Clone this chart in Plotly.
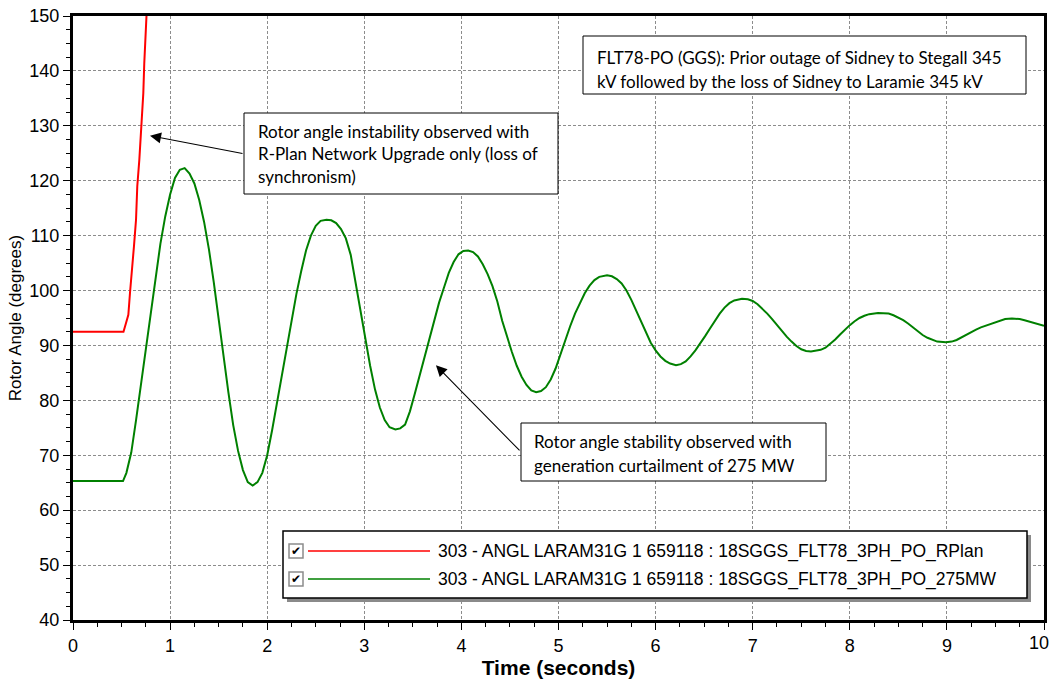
import plotly.graph_objects as go

# ---------------- data ----------------
series_names = [
    "303 - ANGL LARAM31G 1 659118 : 18SGGS_FLT78_3PH_PO_RPlan",
    "303 - ANGL LARAM31G 1 659118 : 18SGGS_FLT78_3PH_PO_275MW",
]
series_colors = ["#FF0000", "#008000"]

rplan_time = [0.0, 0.52, 0.546, 0.57, 0.587, 0.604, 0.628, 0.649, 0.662, 0.683,
              0.707, 0.724, 0.734, 0.748, 0.758, 0.77]
rplan_angle = [92.5, 92.5, 94.1, 95.6, 99.6, 103.8, 108.1, 112.9, 119.0, 123.8,
               129.9, 135.9, 141.4, 145.6, 150.0, 155.0]

mw275_time = [
    0.0, 0.25, 0.50, 0.515, 0.55, 0.60, 0.65, 0.70, 0.75, 0.80, 0.85, 0.90, 0.95,
    1.00, 1.05, 1.10, 1.15,
    1.20, 1.25, 1.30, 1.35, 1.40, 1.45, 1.50, 1.55, 1.60, 1.65, 1.70, 1.75, 1.80, 1.85,
    1.90, 1.95, 2.00, 2.05, 2.10, 2.15, 2.20, 2.25, 2.30, 2.35, 2.40, 2.45, 2.50, 2.55, 2.61,
    2.66, 2.71, 2.76, 2.81, 2.86, 2.91, 2.96, 3.01, 3.06, 3.11, 3.16, 3.21, 3.26, 3.32,
    3.37, 3.42, 3.47, 3.52, 3.57, 3.62, 3.67, 3.72, 3.77, 3.82, 3.87, 3.92, 3.97, 4.02, 4.07,
    4.12, 4.17, 4.22, 4.27, 4.32, 4.37, 4.42, 4.47, 4.52, 4.57, 4.62, 4.67, 4.72, 4.77,
    4.82, 4.87, 4.92, 4.97, 5.02, 5.07, 5.12, 5.17, 5.22, 5.27, 5.32, 5.37, 5.42, 5.50,
    5.55, 5.60, 5.65, 5.70, 5.75, 5.80, 5.85, 5.90, 5.95, 6.00, 6.05, 6.10, 6.15, 6.21,
    6.26, 6.31, 6.36, 6.41, 6.46, 6.51, 6.56, 6.61, 6.66, 6.71, 6.76, 6.81, 6.89,
    6.95, 7.00, 7.05, 7.10, 7.15, 7.20, 7.25, 7.30, 7.35, 7.40, 7.45, 7.50, 7.55, 7.60,
    7.65, 7.70, 7.75, 7.80, 7.85, 7.90, 7.95, 8.00, 8.05, 8.10, 8.15, 8.20, 8.29,
    8.35, 8.40, 8.45, 8.50, 8.55, 8.60, 8.65, 8.70, 8.75, 8.80, 8.85, 8.90, 8.99,
    9.05, 9.10, 9.15, 9.20, 9.25, 9.30, 9.35, 9.40, 9.45, 9.50, 9.55, 9.60, 9.67,
    9.75, 9.80, 9.86, 9.93, 10.0,
]
mw275_angle = [
    65.3, 65.3, 65.3, 65.3, 66.8, 70.5, 76.5, 83.0, 89.5, 96.0, 102.0, 108.5, 113.5,
    117.5, 120.5, 122.0, 122.3,
    121.3, 119.5, 116.5, 112.5, 107.5, 101.5, 94.5, 88.0, 81.5, 75.5, 70.8, 67.3, 65.1, 64.5,
    65.1, 66.8, 70.0, 74.5, 79.5, 84.5, 89.5, 94.5, 99.3, 103.5, 107.3, 110.0, 111.8, 112.7, 112.9,
    112.8, 112.3, 111.2, 109.5, 106.5, 101.5, 96.0, 91.0, 86.3, 82.0, 78.7, 76.4, 75.1, 74.7,
    74.9, 75.6, 78.0, 81.2, 84.5, 88.0, 91.0, 94.5, 97.8, 100.5, 103.2, 105.2, 106.6, 107.2, 107.3,
    107.0, 106.2, 104.8, 103.0, 100.8, 98.0, 94.5, 91.5, 88.8, 86.3, 84.3, 82.8, 81.8, 81.5,
    81.7, 82.4, 83.8, 85.8, 88.5, 91.0, 93.5, 95.8, 97.8, 99.5, 100.9, 101.9, 102.5, 102.8,
    102.6, 102.1, 101.3, 100.0, 98.3, 96.3, 94.2, 92.2, 90.5, 89.1, 88.0, 87.2, 86.7, 86.4,
    86.6, 87.1, 88.0, 89.1, 90.3, 91.7, 93.1, 94.5, 95.8, 96.9, 97.7, 98.2, 98.5,
    98.4, 98.1, 97.5, 96.7, 95.8, 94.8, 93.7, 92.6, 91.6, 90.7, 89.9, 89.3, 89.0, 88.9,
    89.0, 89.2, 89.6, 90.3, 91.1, 92.0, 92.9, 93.7, 94.4, 95.0, 95.4, 95.7, 95.9,
    95.9, 95.8, 95.5, 95.1, 94.6, 94.0, 93.3, 92.6, 91.9, 91.4, 91.0, 90.7, 90.6,
    90.7, 91.0, 91.5, 92.0, 92.5, 92.9, 93.3, 93.6, 94.0, 94.3, 94.6, 94.8, 94.9,
    94.8, 94.6, 94.3, 94.0, 93.6,
]

x_ticks = list(range(0, 11))
x_tick_text = [str(v) for v in x_ticks[:-1]] + [""]   # last label drawn separately
x_last_label = str(x_ticks[-1])
y_ticks = list(range(40, 151, 10))

note_top = ["FLT78-PO (GGS): Prior outage of Sidney to Stegall 345",
            "kV followed by the loss of Sidney to Laramie 345 kV"]
note_unstable = ["Rotor angle instability observed with",
                 "R-Plan Network Upgrade only (loss of",
                 "synchronism)"]
note_stable = ["Rotor angle stability observed with",
               "generation curtailment of 275 MW"]

# ---------------- geometry helpers ----------------
W, H = 1052, 681
L, R, T, B = 73, 8, 16, 61
PW = W - L - R
PH = H - T - B


def fx(p):
    return (p - L) / PW


def fy(p):
    return (H - B - p) / PH


ARIAL = "Liberation Sans, Arial, sans-serif"
CALIBRI = "Lato, Carlito, Calibri, sans-serif"

fig = go.Figure()
fig.add_trace(go.Scatter(x=rplan_time, y=rplan_angle, mode="lines",
                         name=series_names[0], showlegend=False,
                         line=dict(color=series_colors[0], width=2)))
fig.add_trace(go.Scatter(x=mw275_time, y=mw275_angle, mode="lines",
                         name=series_names[1], showlegend=False,
                         line=dict(color=series_colors[1], width=2)))

shapes = []
annotations = []


def text_box(x0, y0, x1, y1, lines, tx, ty_list, size=17):
    shapes.append(dict(type="rect", xref="paper", yref="paper",
                       x0=fx(x0), x1=fx(x1), y0=fy(y1), y1=fy(y0),
                       fillcolor="white", line=dict(color="black", width=1),
                       layer="above"))
    for line, ty in zip(lines, ty_list):
        annotations.append(dict(xref="paper", yref="paper", x=fx(tx), y=fy(ty),
                                xanchor="left", yanchor="middle", showarrow=False,
                                text=line, font=dict(family=CALIBRI, size=size,
                                                     color="black")))


text_box(583, 36, 1026, 94, note_top, 595, [57.5, 81])
text_box(244, 113, 558, 194, note_unstable, 256, [131.5, 154, 176])
text_box(521, 423, 826, 481, note_stable, 532, [442, 465])

# arrows
for (hx, hy, tx_, ty_) in [(0.793, 128.2, 1.761, 124.9),
                           (3.738, 86.4, 4.614, 70.6)]:
    annotations.append(dict(x=hx, y=hy, ax=tx_, ay=ty_, xref="x", yref="y",
                            axref="x", ayref="y", text="", showarrow=True,
                            arrowhead=2, arrowsize=2.0, arrowwidth=1.1,
                            arrowcolor="black", standoff=0, startstandoff=0))

# last x tick label, kept inside the page
annotations.append(dict(xref="paper", yref="paper", x=fx(1051), y=fy(643),
                        xanchor="right", yanchor="middle", showarrow=False,
                        text=x_last_label,
                        font=dict(family=ARIAL, size=18, color="black")))

# legend (manual, with check boxes)
lg_x0, lg_y0, lg_x1, lg_y1 = 283, 531, 1027, 598
shapes.append(dict(type="rect", xref="paper", yref="paper",
                   x0=fx(lg_x0 + 4), x1=fx(lg_x1 + 4), y0=fy(lg_y1 + 4), y1=fy(lg_y0 + 4),
                   fillcolor="#8a8a8a", line=dict(width=0), layer="above"))
shapes.append(dict(type="rect", xref="paper", yref="paper",
                   x0=fx(lg_x0), x1=fx(lg_x1), y0=fy(lg_y1), y1=fy(lg_y0),
                   fillcolor="white", line=dict(color="black", width=1.5),
                   layer="above"))
for i, (name, col) in enumerate(zip(series_names, series_colors)):
    cy = 551 + i * 28
    shapes.append(dict(type="rect", xref="paper", yref="paper",
                       x0=fx(289), x1=fx(303), y0=fy(cy + 7), y1=fy(cy - 7),
                       fillcolor="white", line=dict(color="#8c8c8c", width=1.5),
                       layer="above"))
    annotations.append(dict(xref="paper", yref="paper", x=fx(296), y=fy(cy),
                            xanchor="center", yanchor="middle", showarrow=False,
                            text="<b>✔</b>", font=dict(family="DejaVu Sans", size=12,
                                                       color="black")))
    shapes.append(dict(type="line", xref="paper", yref="paper",
                       x0=fx(308), x1=fx(430), y0=fy(cy), y1=fy(cy),
                       line=dict(color=col, width=1.5), layer="above"))
    annotations.append(dict(xref="paper", yref="paper", x=fx(436), y=fy(cy),
                            xanchor="left", yanchor="middle", showarrow=False,
                            text=name, font=dict(family=ARIAL, size=17.5,
                                                 color="black")))

fig.update_layout(
    width=W, height=H,
    margin=dict(l=L, r=R, t=T, b=B, autoexpand=False),
    paper_bgcolor="white", plot_bgcolor="white",
    showlegend=False,
    font=dict(family=ARIAL, color="black"),
    shapes=shapes, annotations=annotations,
)

axis_common = dict(
    showline=True, linewidth=3, linecolor="black", mirror=True,
    ticks="outside", tickwidth=1, tickcolor="black",
    showgrid=True, gridcolor="#8c8c8c", griddash="3px,2px", gridwidth=1,
    zeroline=False, tickfont=dict(family=ARIAL, size=18, color="black"),
)

fig.update_xaxes(range=[0, 10], tickvals=x_ticks, ticktext=x_tick_text, ticklen=7,
                 minor=dict(dtick=0.25, tick0=0, ticks="outside", ticklen=4,
                            tickcolor="black", showgrid=False),
                 title=dict(text="<b>Time (seconds)</b>",
                            font=dict(family=ARIAL, size=21, color="black"),
                            standoff=3),
                 **axis_common)
fig.update_yaxes(range=[40, 150], tickvals=y_ticks, ticklen=7,
                 minor=dict(dtick=2.5, tick0=40, ticks="outside", ticklen=4,
                            tickcolor="black", showgrid=False),
                 title=dict(text="Rotor Angle (degrees)",
                            font=dict(family=ARIAL, size=17, color="black"),
                            standoff=4),
                 **axis_common)

fig.write_html("out.html")
